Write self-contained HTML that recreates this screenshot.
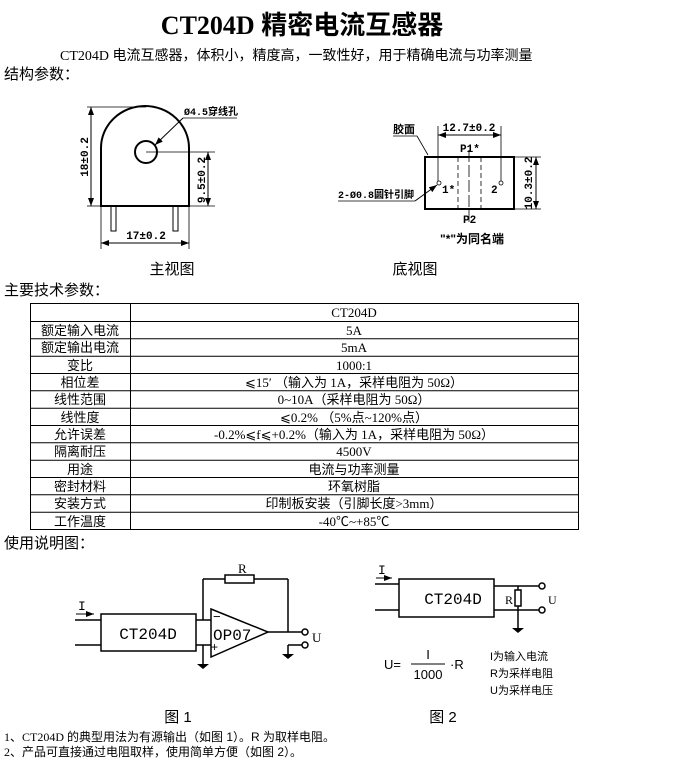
<!DOCTYPE html>
<html><head><meta charset="utf-8"><style>
html,body{margin:0;padding:0;background:#fff;width:688px;height:772px;overflow:hidden}
svg{display:block}
text{font-family:"Liberation Serif","Noto Sans CJK SC",serif;fill:#000}
.s{font-family:"Liberation Sans","Noto Sans CJK SC",sans-serif}
.m{font-family:"Liberation Mono","Noto Sans CJK SC",monospace}
</style></head><body>
<svg width="688" height="772" viewBox="0 0 688 772" xmlns="http://www.w3.org/2000/svg">
<defs>
<marker id="a" markerWidth="8" markerHeight="6" refX="8" refY="3" orient="auto-start-reverse" markerUnits="userSpaceOnUse"><path d="M0,0L8,3L0,6z" fill="#000"/></marker>
</defs>
<text x="302" y="34" text-anchor="middle" font-size="26" font-weight="bold">CT204D 精密电流互感器</text>
<text x="60" y="60" font-size="14">CT204D <tspan class="s">电流互感器，体积小，精度高，一致性好，用于精确电流与功率测量</tspan></text>
<text x="4" y="79" font-size="15" class="s">结构参数：</text>

<g stroke="#000" fill="none">
<path d="M101,206 V148 A44,42 0 0 1 189,148 V206 Z" stroke-width="2"/>
<circle cx="146" cy="152" r="11" stroke-width="2"/>
<rect x="111" y="206" width="5" height="25" stroke-width="1"/>
<rect x="173" y="206" width="5" height="25" stroke-width="1"/>
<line x1="87" y1="107" x2="146" y2="107" stroke-width="0.8"/>
<line x1="87" y1="206" x2="101" y2="206" stroke-width="0.8"/>
<line x1="91" y1="107" x2="91" y2="206" stroke-width="1" marker-start="url(#a)" marker-end="url(#a)"/>
<line x1="146" y1="152" x2="215" y2="152" stroke-width="0.8"/>
<line x1="189" y1="206" x2="215" y2="206" stroke-width="0.8"/>
<line x1="208" y1="152" x2="208" y2="206" stroke-width="1" marker-start="url(#a)" marker-end="url(#a)"/>
<line x1="101" y1="206" x2="101" y2="249" stroke-width="0.8"/>
<line x1="189" y1="206" x2="189" y2="249" stroke-width="0.8"/>
<line x1="101" y1="243" x2="189" y2="243" stroke-width="1" marker-start="url(#a)" marker-end="url(#a)"/>
<line x1="237" y1="118" x2="183" y2="118" stroke-width="0.8"/>
<line x1="183" y1="118" x2="155" y2="145" stroke-width="1" marker-end="url(#a)"/>
</g>
<text x="184" y="115" font-size="10" class="m" font-weight="bold">Ø4.5穿线孔</text>
<text x="146" y="239" font-size="11" class="m" text-anchor="middle" font-weight="bold">17±0.2</text>
<text transform="translate(88,157) rotate(-90)" font-size="11" class="m" text-anchor="middle" font-weight="bold">18±0.2</text>
<text transform="translate(205,180) rotate(-90)" font-size="11" class="m" text-anchor="middle" font-weight="bold">9.5±0.2</text>

<g stroke="#000" fill="none">
<rect x="425" y="157" width="89" height="52" stroke-width="2"/>
<line x1="458" y1="157" x2="458" y2="209" stroke-width="0.8" stroke-dasharray="5,3"/>
<line x1="481" y1="157" x2="481" y2="209" stroke-width="0.8" stroke-dasharray="5,3"/>
<line x1="469" y1="150" x2="469" y2="222" stroke-width="0.8" stroke-dasharray="12,3"/>
<circle cx="439" cy="183" r="2" stroke-width="0.8"/>
<circle cx="501" cy="183" r="2" stroke-width="0.8"/>
<line x1="438" y1="126" x2="438" y2="181" stroke-width="0.8"/>
<line x1="501" y1="126" x2="501" y2="181" stroke-width="0.8"/>
<line x1="438" y1="135" x2="501" y2="135" stroke-width="1" marker-start="url(#a)" marker-end="url(#a)"/>
<line x1="514" y1="157" x2="541" y2="157" stroke-width="0.8"/>
<line x1="514" y1="209" x2="541" y2="209" stroke-width="0.8"/>
<line x1="536" y1="157" x2="536" y2="209" stroke-width="1" marker-start="url(#a)" marker-end="url(#a)"/>
<line x1="393" y1="136" x2="417" y2="136" stroke-width="0.8"/>
<line x1="417" y1="136" x2="428" y2="155" stroke-width="0.8"/>
<line x1="338" y1="201" x2="415" y2="201" stroke-width="0.8"/>
<line x1="415" y1="201" x2="437" y2="185" stroke-width="1" marker-end="url(#a)"/>
</g>
<text x="393" y="133" font-size="11" class="m" font-weight="bold">胶面</text>
<text x="469" y="131" font-size="11" class="m" text-anchor="middle" font-weight="bold">12.7±0.2</text>
<text x="460" y="152" font-size="11" class="m" font-weight="bold">P1*</text>
<text x="442" y="193" font-size="11" class="m" font-weight="bold">1*</text>
<text x="491" y="193" font-size="11" class="m" font-weight="bold">2</text>
<text x="338" y="198" font-size="10" class="m" font-weight="bold">2-Ø0.8圆针引脚</text>
<text x="463" y="223" font-size="11" class="m" font-weight="bold">P2</text>
<text x="440" y="243" font-size="12" class="s" font-weight="bold">"*"为同名端</text>
<text transform="translate(532,183) rotate(-90)" font-size="11" class="m" text-anchor="middle" font-weight="bold">10.3±0.2</text>
<text x="172" y="274" font-size="15" class="s" text-anchor="middle">主视图</text>
<text x="415" y="274" font-size="15" class="s" text-anchor="middle">底视图</text>

<text x="4" y="295" font-size="15" class="s">主要技术参数：</text>

<g stroke="#000" stroke-width="1" fill="none">
<rect x="30.5" y="303.5" width="548" height="226"/>
<line x1="130.5" y1="303.5" x2="130.5" y2="529.5"/>
<line x1="30.5" y1="321.5" x2="578.5" y2="321.5"/>
<line x1="30.5" y1="338.8" x2="578.5" y2="338.8"/>
<line x1="30.5" y1="356.2" x2="578.5" y2="356.2"/>
<line x1="30.5" y1="373.5" x2="578.5" y2="373.5"/>
<line x1="30.5" y1="390.8" x2="578.5" y2="390.8"/>
<line x1="30.5" y1="408.2" x2="578.5" y2="408.2"/>
<line x1="30.5" y1="425.5" x2="578.5" y2="425.5"/>
<line x1="30.5" y1="442.8" x2="578.5" y2="442.8"/>
<line x1="30.5" y1="460.2" x2="578.5" y2="460.2"/>
<line x1="30.5" y1="477.5" x2="578.5" y2="477.5"/>
<line x1="30.5" y1="494.8" x2="578.5" y2="494.8"/>
<line x1="30.5" y1="512.2" x2="578.5" y2="512.2"/>
</g>
<g font-size="13" text-anchor="middle">
<text x="354" y="317">CT204D</text>
<g class="s">
<text x="80" y="335">额定输入电流</text><text x="80" y="352">额定输出电流</text><text x="80" y="370">变比</text><text x="80" y="387">相位差</text><text x="80" y="404">线性范围</text><text x="80" y="422">线性度</text><text x="80" y="439">允许误差</text><text x="80" y="456">隔离耐压</text><text x="80" y="474">用途</text><text x="80" y="491">密封材料</text><text x="80" y="508">安装方式</text><text x="80" y="526">工作温度</text>
</g>
<text x="354" y="335">5A</text><text x="354" y="352">5mA</text><text x="354" y="370">1000:1</text>
<text x="354" y="387">⩽15′ （输入为 1A，采样电阻为 50Ω）</text>
<text x="354" y="404">0~10A（采样电阻为 50Ω）</text>
<text x="354" y="422">⩽0.2% （5%点~120%点）</text>
<text x="354" y="439">-0.2%⩽f⩽+0.2%（输入为 1A，采样电阻为 50Ω）</text>
<text x="354" y="456">4500V</text>
<text x="354" y="474" class="s">电流与功率测量</text>
<text x="354" y="491" class="s">环氧树脂</text>
<text x="354" y="508">印制板安装（引脚长度&gt;3mm）</text>
<text x="354" y="526">-40℃~+85℃</text>
</g>

<text x="4" y="548" font-size="15" class="s">使用说明图：</text>

<g stroke="#000" stroke-width="1.5" fill="none">
<rect x="101" y="614" width="95" height="37"/>
<line x1="75" y1="620" x2="101" y2="620"/><line x1="75" y1="645" x2="101" y2="645"/>
<line x1="76" y1="614" x2="94" y2="614" stroke-width="1" marker-end="url(#a)"/>
<line x1="196" y1="620" x2="211" y2="620"/><line x1="196" y1="645" x2="211" y2="645"/>
<path d="M211,609 L268,632 L211,657 Z"/>
<line x1="203" y1="620" x2="203" y2="579"/>
<line x1="203" y1="579" x2="225" y2="579"/><rect x="225" y="575" width="29" height="8"/>
<line x1="254" y1="579" x2="288" y2="579"/><line x1="288" y1="579" x2="288" y2="632"/>
<line x1="268" y1="632" x2="302" y2="632"/>
<circle cx="305" cy="632" r="3"/><circle cx="305" cy="645" r="3"/>
<line x1="302" y1="645" x2="288" y2="645"/><line x1="288" y1="645" x2="288" y2="654"/>
<line x1="203" y1="645" x2="203" y2="664"/>
</g>
<path d="M197,664 h12 l-6,5 z M282,654 h12 l-6,5 z" fill="#000"/>
<text x="78" y="610" font-size="13" class="m">I</text>
<text x="148" y="639" font-size="16" class="m" text-anchor="middle">CT204D</text>
<text x="213" y="640" font-size="16" class="m">OP07</text>
<text x="213" y="621" font-size="13" class="s">−</text>
<text x="211" y="651" font-size="12" class="s">+</text>
<text x="238" y="573" font-size="13">R</text>
<text x="312" y="642" font-size="13">U</text>

<g stroke="#000" stroke-width="1.5" fill="none">
<rect x="399" y="579" width="95" height="38"/>
<line x1="375" y1="584" x2="399" y2="584"/><line x1="375" y1="610" x2="399" y2="610"/>
<line x1="376" y1="578" x2="392" y2="578" stroke-width="1" marker-end="url(#a)"/>
<line x1="494" y1="586" x2="539" y2="586"/><line x1="494" y1="610" x2="539" y2="610"/>
<circle cx="542" cy="586" r="3"/><circle cx="542" cy="610" r="3"/>
<rect x="515" y="590" width="6" height="16"/>
<line x1="518" y1="586" x2="518" y2="590"/><line x1="518" y1="606" x2="518" y2="628"/>
</g>
<path d="M512,628 h12 l-6,5 z" fill="#000"/>
<text x="378" y="574" font-size="13" class="m">I</text>
<text x="453" y="604" font-size="16" class="m" text-anchor="middle">CT204D</text>
<text x="505" y="604" font-size="12">R</text>
<text x="548" y="604" font-size="12">U</text>
<text x="384" y="669" font-size="13" class="s">U=</text>
<text x="428" y="659" font-size="13" class="s" text-anchor="middle">I</text>
<line x1="411" y1="664" x2="445" y2="664" stroke="#000"/>
<text x="428" y="679" font-size="13" class="s" text-anchor="middle">1000</text>
<text x="450" y="669" font-size="13" class="s">·R</text>
<text x="490" y="660" font-size="11" class="s">I为输入电流</text>
<text x="490" y="677" font-size="11" class="s">R为采样电阻</text>
<text x="490" y="694" font-size="11" class="s">U为采样电压</text>

<text x="178" y="722" font-size="15" class="s" text-anchor="middle">图 1</text>
<text x="443" y="722" font-size="15" class="s" text-anchor="middle">图 2</text>
<text x="4" y="741" font-size="12">1、CT204D <tspan class="s">的典型用法为有源输出（如图 1）。R 为取样电阻。</tspan></text>
<text x="4" y="756" font-size="12">2、<tspan class="s">产品可直接通过电阻取样，使用简单方便（如图 2）。</tspan></text>
</svg>
</body></html>
